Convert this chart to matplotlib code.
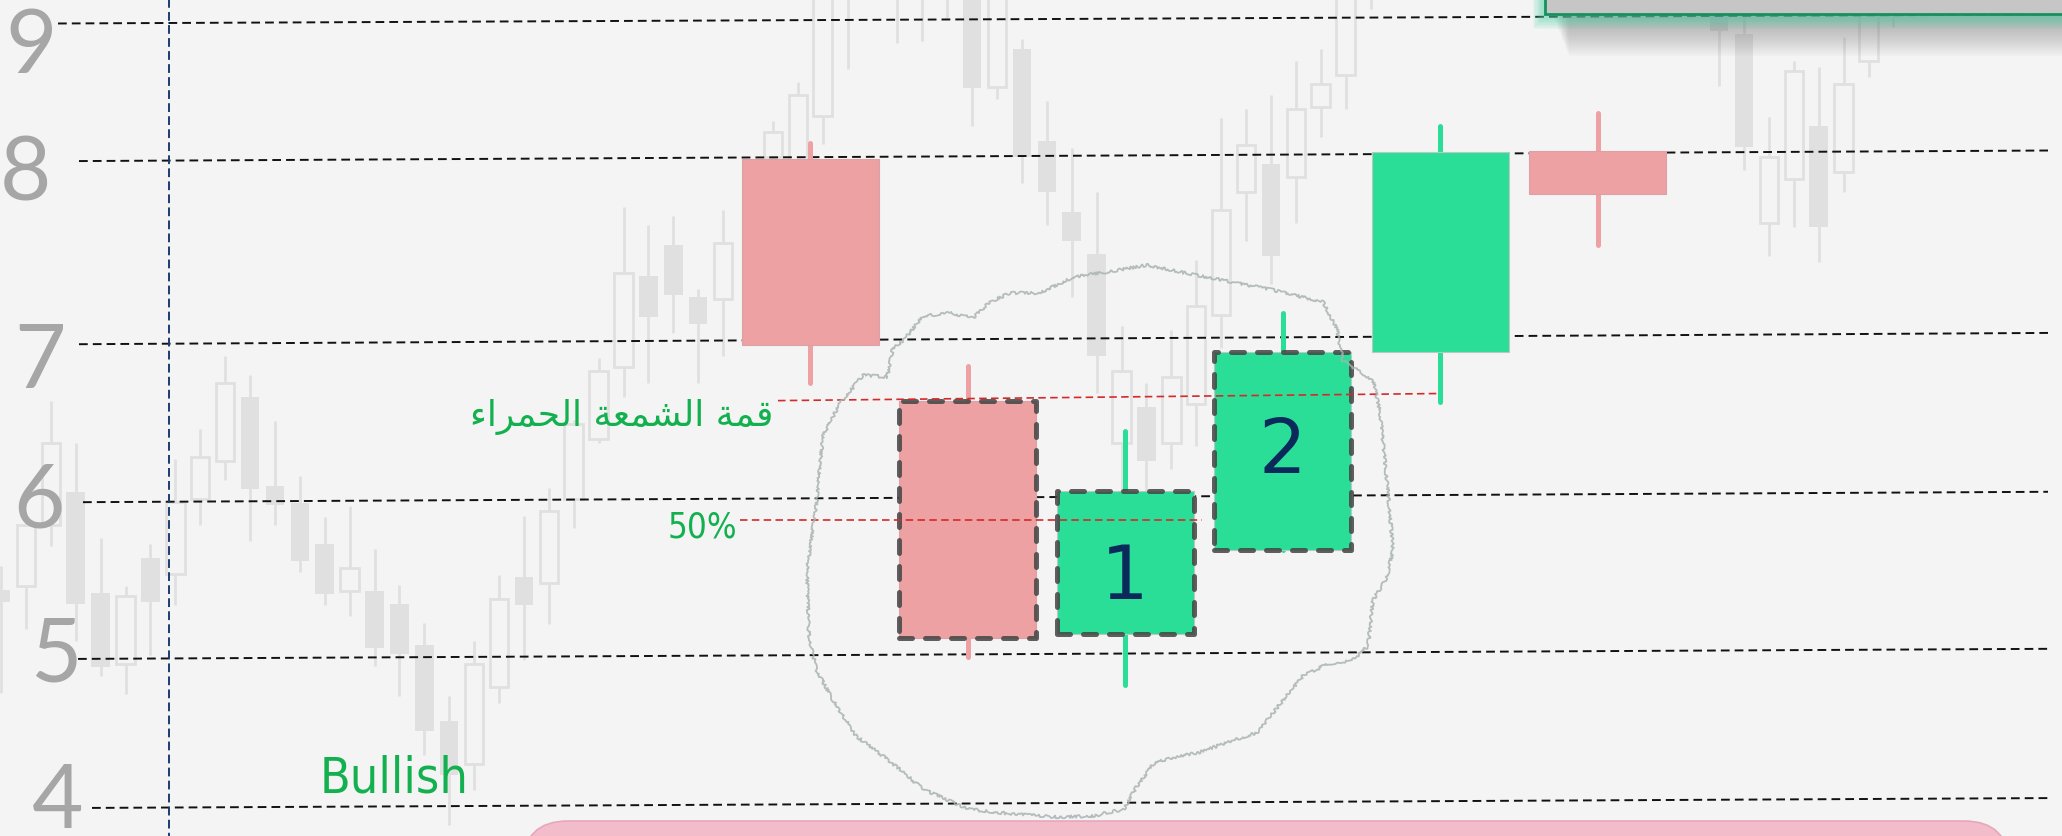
import numpy as np
import matplotlib
matplotlib.use("Agg")
import matplotlib.pyplot as plt
from matplotlib.patches import Rectangle, FancyBboxPatch

# ---- data (prices) ----
nan = np.nan
# faint background chart, one entry per bar, nan = hidden bar
bg_open = [5.41, 5.43, 5.82, 6.03, 5.39, 4.93, 5.61, 5.51, 5.99, 6.23,
           6.63, 6.07, 5.96, 5.70, 5.40, 5.40, 5.32, 5.06, 4.55, 4.26,
           4.78, 5.49, 5.45, 5.99, 6.37, 6.82, 7.34, 7.51, 7.23, 7.22,
           nan, 7.99, 7.80, 8.29, 9.60, nan, 9.70, 9.30, 9.40, 9.30,
           8.50, 8.78, 8.10, 7.69, 7.46, 6.34, 6.57, 6.34, 6.59, 7.13,
           7.80, 7.95, 7.88, 8.35, 8.59, 9.30] + [nan] * 13 + \
          [9.02, 8.89, 7.63, 7.87, 8.21, 7.91, 8.69, 9.20]
bg_high = [5.56, 5.85, 6.61, 6.34, 5.74, 5.43, 5.70, 6.24, 6.43, 6.89,
           6.77, 6.48, 6.13, 5.87, 5.94, 5.67, 5.44, 5.20, 4.72, 5.08,
           5.50, 5.88, 6.06, 6.49, 6.88, 7.72, 7.62, 7.67, 7.27, 7.70,
           nan, 8.25, 8.54, 9.40, 9.70, nan, 9.80, 9.80, 9.80, 9.40,
           9.40, 8.85, 8.40, 8.05, 7.80, 7.07, 6.72, 7.05, 7.43, 8.27,
           8.34, 8.44, 8.69, 8.78, 9.40, 9.70] + [nan] * 13 + \
          [9.20, 9.10, 8.28, 8.69, 8.65, 8.87, 9.20, 9.30]
bg_low = [4.74, 5.16, 5.69, 5.08, 4.85, 4.73, 4.99, 5.31, 5.82, 6.11,
          5.72, 5.82, 5.52, 5.31, 5.24, 4.92, 4.72, 4.32, 3.85, 4.09,
          4.67, 4.96, 5.19, 5.80, 6.34, 6.63, 6.72, 7.03, 6.72, 6.89,
          nan, 7.90, 7.60, 8.08, 8.63, nan, 8.82, 8.84, 9.01, 8.21,
          8.41, 7.85, 7.62, 7.23, 6.66, 6.03, 6.03, 6.18, 6.32, 6.94,
          7.53, 7.30, 7.63, 8.13, 8.34, 9.07] + [nan] * 13 + \
         [8.51, 7.92, 7.45, 7.61, 7.42, 7.80, 8.57, 8.94]
bg_close = [5.33, 5.82, 6.34, 5.32, 4.91, 5.37, 5.33, 5.97, 6.25, 6.72,
            6.05, 5.95, 5.59, 5.38, 5.55, 5.04, 5.00, 4.48, 4.19, 4.93,
            5.35, 5.31, 5.91, 6.46, 6.80, 7.36, 7.12, 7.24, 7.08, 7.52,
            nan, 8.17, 8.44, 9.30, 9.25, nan, 9.30, 9.70, 9.70, 8.49,
            9.30, 7.99, 7.80, 7.53, 6.89, 6.80, 6.23, 6.76, 7.18, 7.70,
            8.07, 7.45, 8.34, 8.52, 9.30, 9.60] + [nan] * 13 + \
           [8.91, 8.06, 7.99, 8.62, 7.61, 8.52, 9.05, 9.05]

# the highlighted candles
main_open = [7.98, 6.61, 5.13, 5.66, 6.92, 8.03]
main_high = [8.09, 6.83, 6.42, 7.14, 8.21, 8.31]
main_low = [6.72, 4.98, 4.79, 5.66, 6.60, 7.51]
main_close = [6.96, 5.10, 6.04, 6.92, 8.02, 7.79]
outlined = [1, 2, 3]
numbers = {2: "1", 3: "2"}
number_y = {2: 5.49, 3: 6.29}

levels = [9, 8, 7, 6, 5, 4]
level_labels = ["9", "8", "7", "6", "5", "4"]

# ---- layout ----
W, H = 2062, 837
BG_X0, BG_STEP, BG_W = 1.0, 24.9, 18.5
FG_X0, FG_STEP, FG_W = 810.0, 157.5, 137.0
RED, GREEN = "#eda1a2", "#2bde97"
GRAY = "#e0e0e0"
BGCOL = "#f4f4f4"
TXT_GREEN = "#12b04e"

# price -> screen row, the levels on the picture are not evenly spaced
P_ANCH = [3.0, 4, 5, 6, 7, 8, 9, 10.5]
PX_ANCH = [953, 804, 655, 498, 340, 156, 20, -184]


def fwd(v):
    return -np.interp(v, P_ANCH, PX_ANCH)


def inv(v):
    return np.interp(-np.asarray(v), PX_ANCH[::-1], P_ANCH[::-1])


fig = plt.figure(figsize=(W / 100, H / 100), dpi=100)
fig.patch.set_facecolor(BGCOL)
ax = fig.add_axes([0, 0, 1, 1])
ax.set_yscale("function", functions=(fwd, inv))
ax.set_xlim(0, W)
ax.set_ylim(inv(-H), inv(0))
ax.axis("off")

# overlay in pixel units for the hand drawn bits
axp = fig.add_axes([0, 0, 1, 1], zorder=ax.get_zorder() + 1)
axp.set_xlim(0, W)
axp.set_ylim(H, 0)
axp.axis("off")
axp.patch.set_alpha(0)

# background candles
o, h, l, c = (np.array(a, dtype=float) for a in (bg_open, bg_high, bg_low, bg_close))
bx = BG_X0 + BG_STEP * np.arange(len(o))
ok = ~np.isnan(o)
ax.vlines(bx[ok], l[ok], h[ok], color=GRAY, lw=2.0, zorder=1)
up = ok & (c >= o)
dn = ok & (c < o)
ax.bar(bx[dn], (o - c)[dn], BG_W, bottom=c[dn], color=GRAY, zorder=2)
ax.bar(bx[up], (c - o)[up], BG_W, bottom=o[up], facecolor=BGCOL,
       edgecolor=GRAY, lw=2.0, zorder=2)

# dashed price levels, slightly tilted like the drawing
starts = [58, 79, 79, 83, 78, 92]
for lvl, x0 in zip(levels, starts):
    ax.plot([x0, 2048], [lvl - 0.033, lvl + 0.033], color="#111111", lw=1.4,
            dashes=(4.5, 2.6), zorder=3)

# main candles
mo, mh, ml, mc = (np.array(a) for a in (main_open, main_high, main_low, main_close))
mx = FG_X0 + FG_STEP * np.arange(len(mo))
for i in range(len(mo)):
    col = GREEN if mc[i] > mo[i] else RED
    ax.plot([mx[i], mx[i]], [ml[i], mh[i]], color=col, lw=3.6,
            solid_capstyle="round", zorder=4)
    lo, hi = min(mo[i], mc[i]), max(mo[i], mc[i])
    ax.bar(mx[i], hi - lo, FG_W, bottom=lo, color=col,
           edgecolor="#dba0a8" if col == RED else "#b9c9c0", lw=0.8, zorder=5)
    if i in outlined:
        ax.add_patch(Rectangle((mx[i] - FG_W / 2, lo), FG_W, hi - lo, fill=False,
                               ec="#444444", alpha=0.85, lw=3.6, ls=(0, (2.6, 2.6)),
                               capstyle="round", joinstyle="round", zorder=6))
    if i in numbers:
        ax.text(mx[i], number_y[i], numbers[i], ha="center", va="center",
                fontsize=54, color="#0b2a5b", zorder=8)

# red guide lines: top of the red candle and its 50 %
top = main_open[1]
half = (main_open[1] + main_close[1]) / 2
ax.plot([778, mx[4]], [top, top + 0.045], color="#d42a2a", lw=1.2,
        dashes=(4.5, 2.6), zorder=7)
ax.plot([740, 1202], [half, half], color="#d42a2a", lw=1.2,
        dashes=(4.5, 2.6), zorder=7)

# level labels on the left
lab_x = [31, 26, 40, 39, 56, 58]
lab_base = [73, 200, 388, 527, 682, 828]
for t, x, y in zip(level_labels, lab_x, lab_base):
    axp.text(x, y, t, ha="center", va="baseline", fontsize=64, color="#a6a6a6",
             family=["Lato", "DejaVu Sans"])

# navy vertical marker
axp.plot([169, 169], [0, H], color="#1d3a73", lw=1.4, dashes=(4.5, 2.2))

# texts
axp.text(320, 793, "Bullish", ha="left", va="baseline", fontsize=36,
         color=TXT_GREEN, family="DejaVu Sans", fontstretch="condensed")
axp.text(737, 537, "50%", ha="right", va="baseline", fontsize=25,
         color=TXT_GREEN, family="DejaVu Sans", fontstretch="condensed")
arabic = "\uFE80\uFE8D\uFEAE\uFEE4\uFEA4\uFEDF\uFE8D \uFE94\uFECC\uFEE4\uFEB8\uFEDF\uFE8D \uFE94\uFEE4\uFED7"
axp.text(773, 426, arabic, ha="right", va="baseline", fontsize=26,
         color=TXT_GREEN, family=["DejaVu Sans"])

# sketchy cloud around the pattern
blob = [(893, 349), (903, 342), (923, 317), (950, 314), (973, 319), (990, 303),
        (1010, 294), (1040, 294), (1073, 278), (1107, 273), (1147, 266),
        (1190, 275), (1227, 282), (1273, 291), (1323, 303), (1337, 330),
        (1343, 362), (1373, 381), (1380, 413), (1387, 482), (1393, 550),
        (1387, 578), (1373, 601), (1368, 647), (1353, 661), (1327, 665),
        (1303, 677), (1280, 705), (1258, 733), (1200, 753), (1155, 763),
        (1137, 787), (1124, 810), (1093, 817), (1057, 818), (1012, 815),
        (968, 810), (923, 790), (887, 760), (856, 737), (834, 703),
        (816, 670), (809, 637), (807, 570), (816, 507), (823, 437),
        (840, 404), (863, 376), (887, 378), (893, 349)]
bxs, bys = zip(*blob)
ln, = axp.plot(bxs, bys, color="#aab3b3", lw=1.3, alpha=0.85)
ln.set_sketch_params(scale=1.4, length=5, randomness=24)

# pink shape at the bottom
axp.add_patch(FancyBboxPatch((523, 822), 1486, 90,
                             boxstyle="round,pad=0,rounding_size=45",
                             fc="#f2bccb", ec="#e8a6bd", lw=1.2))

# teal framed box cut off at the top right, with glow and drop shadow
for k in range(1, 22):
    axp.add_patch(Rectangle((1552 + k * 0.8, -40), 700, 55 + k * 2.0,
                            color="#7a7a7a", alpha=0.035, lw=0))
for k in range(1, 11):
    axp.add_patch(Rectangle((1545 - k * 1.2, -40), 700, 55 + k * 1.5,
                            color="#4fd6a8", alpha=0.08, lw=0))
axp.add_patch(Rectangle((1545, -40), 700, 55, fc="#c6c6c6", ec="#17905f", lw=2))

fig.savefig("out.png", dpi=100, facecolor=fig.get_facecolor())
